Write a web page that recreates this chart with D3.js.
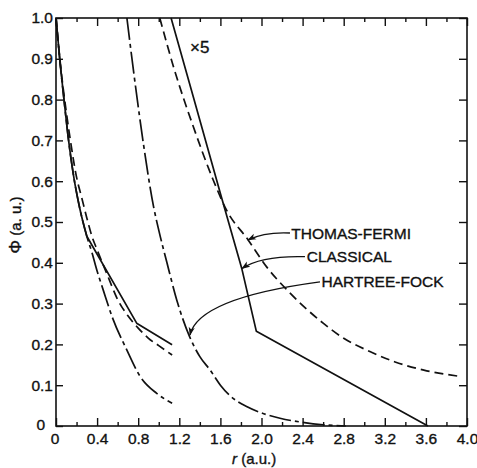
<!DOCTYPE html>
<html>
<head>
<meta charset="utf-8">
<script src="https://cdn.jsdelivr.net/npm/d3@7"></script>
<style>
  body { margin: 0; background: #fff; }
  svg { display: block; }
  text { font-family: "Liberation Sans", Arial, sans-serif; fill: #111; stroke: #111; stroke-width: 0.35px; }
</style>
</head>
<body>
<svg id="chart"></svg>
<script>
// values (r in a.u., potential in a.u.)
const tfR   = [0, 0.05, 0.1, 0.14, 0.2, 0.25, 0.3, 0.35, 0.4, 0.5, 0.6, 0.7, 0.8, 0.9, 1.0, 1.13];
const tfPhi = [1.0, 0.87, 0.77, 0.70, 0.61, 0.56, 0.51, 0.465, 0.432, 0.37, 0.31, 0.27, 0.24, 0.215, 0.197, 0.174];

// classical: curved up to r = 0.3, straight pieces after that
const clR   = [0, 0.04, 0.08, 0.12, 0.17, 0.23, 0.30, 0.785, 1.13];
const clPhi = [1.0, 0.89, 0.795, 0.705, 0.615, 0.535, 0.465, 0.252, 0.199];
const clBend = 6; // index where the straight part begins

const hfR   = [0, 0.04, 0.08, 0.12, 0.17, 0.23, 0.30, 0.35, 0.4, 0.46, 0.55, 0.69, 0.82, 0.98, 1.13];
const hfPhi = [1.0, 0.89, 0.795, 0.705, 0.615, 0.535, 0.465, 0.425, 0.38, 0.333, 0.265, 0.186, 0.121, 0.080, 0.056];

// the "x5" set
const tf5R   = [1.01, 1.15, 1.336, 1.53, 1.66, 1.87, 2.05, 2.25, 2.6, 2.8, 3.06, 3.3, 3.58, 3.95];
const tf5Phi = [1.0, 0.875, 0.734, 0.603, 0.529, 0.456, 0.39, 0.333, 0.252, 0.215, 0.182, 0.157, 0.137, 0.121];

const cl5R   = [1.12, 1.336, 1.6, 1.81, 1.95, 3.62];
const cl5Phi = [1.0, 0.807, 0.57, 0.384, 0.232, 0.0];

const hf5R   = [0.69, 0.77, 0.85, 0.95, 1.0, 1.08, 1.175, 1.30, 1.4, 1.5, 1.6, 1.69, 1.86, 2.0, 2.18, 2.4, 2.6, 2.82];
const hf5Phi = [1.0, 0.84, 0.693, 0.537, 0.48, 0.40, 0.309, 0.219, 0.17, 0.137, 0.100, 0.075, 0.047, 0.032, 0.019, 0.009, 0.003, 0.0];

const xMajor = [0, 0.4, 0.8, 1.2, 1.6, 2.0, 2.4, 2.8, 3.2, 3.6, 4.0];
const xMinor = [0.2, 0.6, 1.0, 1.4, 1.8, 2.2, 2.6, 3.0, 3.4, 3.8];
const yTicks = [0, 0.1, 0.2, 0.3, 0.4, 0.5, 0.6, 0.7, 0.8, 0.9, 1.0];

const W = 477, H = 468;
const margin = { top: 18, right: 10, bottom: 42, left: 56 };
const width = W - margin.left - margin.right;
const height = H - margin.top - margin.bottom;

const x = d3.scaleLinear().domain([0, 4]).range([0, width]);
const y = d3.scaleLinear().domain([0, 1]).range([height, 0]);

const svg = d3.select("#chart").attr("width", W).attr("height", H);
const g = svg.append("g").attr("transform", "translate(" + margin.left + "," + margin.top + ")");

const fmt = function (d) { return d === 0 ? "0" : d3.format(".1f")(d); };

// axes, ticks all pointing inward
g.append("g").attr("transform", "translate(0," + height + ")")
  .call(d3.axisBottom(x).tickValues(xMinor).tickSize(-4).tickSizeOuter(0).tickFormat(""));
const bottomMajor = g.append("g").attr("transform", "translate(0," + height + ")")
  .call(d3.axisBottom(x).tickValues(xMajor).tickSize(-8).tickSizeOuter(0).tickPadding(7).tickFormat(fmt));
g.append("g")
  .call(d3.axisTop(x).tickValues(xMinor).tickSize(-4).tickSizeOuter(0).tickFormat(""));
g.append("g")
  .call(d3.axisTop(x).tickValues(xMajor).tickSize(-8).tickSizeOuter(0).tickFormat(""));
const leftAx = g.append("g")
  .call(d3.axisLeft(y).tickValues(yTicks).tickSize(-7).tickSizeOuter(0).tickPadding(3).tickFormat(fmt));
g.append("g").attr("transform", "translate(" + width + ",0)")
  .call(d3.axisRight(y).tickValues(yTicks).tickSize(-8).tickSizeOuter(0).tickFormat(""));

g.selectAll(".domain").remove();
g.selectAll(".tick line").attr("stroke", "#111").attr("stroke-width", 1.4);
g.selectAll(".tick text").style("font-size", "15.5px").attr("fill", "#111");

// y "0" sits further left, below the x "0"
leftAx.selectAll(".tick").filter(function (d) { return d === 0; })
  .select("text").attr("x", -11).attr("dy", "0.2em");
bottomMajor.selectAll(".tick").filter(function (d) { return d === 0; })
  .select("text").attr("dx", "-0.1em");

// frame
g.append("rect")
  .attr("x", 0).attr("y", 0)
  .attr("width", width).attr("height", height)
  .attr("fill", "none").attr("stroke", "#111").attr("stroke-width", 1.6);

// curves
const toPts = function (rs, ps) { return rs.map(function (r, i) { return [r, ps[i]]; }); };

const smooth = d3.line()
  .x(function (d) { return x(d[0]); })
  .y(function (d) { return y(d[1]); })
  .curve(d3.curveMonotoneX);
const straight = d3.line()
  .x(function (d) { return x(d[0]); })
  .y(function (d) { return y(d[1]); });

const TF_DASH = "9,5";
const HF_DASH = "22,4,4,4";

function drawCurve(pts, gen, dash) {
  g.append("path")
    .datum(pts)
    .attr("fill", "none")
    .attr("stroke", "#111")
    .attr("stroke-width", 1.7)
    .attr("stroke-linejoin", "round")
    .attr("stroke-dasharray", dash)
    .attr("d", gen);
}

drawCurve(toPts(hfR, hfPhi), smooth, HF_DASH);
drawCurve(toPts(tfR, tfPhi), smooth, TF_DASH);
const clPts = toPts(clR, clPhi);
drawCurve(clPts.slice(0, clBend + 1), smooth, null);
drawCurve(clPts.slice(clBend), straight, null);

drawCurve(toPts(hf5R, hf5Phi), smooth, HF_DASH);
drawCurve(toPts(tf5R, tf5Phi), smooth, TF_DASH);
drawCurve(toPts(cl5R, cl5Phi), straight, null);

// labels and arrows
svg.append("defs").append("marker")
  .attr("id", "arrow")
  .attr("viewBox", "0 -4 10 8")
  .attr("refX", 9).attr("refY", 0)
  .attr("markerWidth", 9).attr("markerHeight", 7)
  .attr("markerUnits", "userSpaceOnUse")
  .attr("orient", "auto")
  .append("path")
  .attr("d", "M0,-3.5L10,0L0,3.5L2.5,0Z")
  .attr("fill", "#111");

const labels = [
  { text: "THOMAS-FERMI", r: 2.29, phi: 0.458, from: [2.277, 0.473], ctrl: [2.03, 0.476], to: [1.869, 0.456] },
  { text: "CLASSICAL",    r: 2.44, phi: 0.403, from: [2.423, 0.415], ctrl: [2.0, 0.418], to: [1.81, 0.386] },
  { text: "HARTREE-FOCK", r: 2.584, phi: 0.341, from: [2.569, 0.353], ctrl: [1.385, 0.313], to: [1.304, 0.223] }
];

labels.forEach(function (l) {
  g.append("text")
    .attr("x", x(l.r)).attr("y", y(l.phi))
    .style("font-size", "15.5px")
    .text(l.text);
  const p = d3.path();
  p.moveTo(x(l.from[0]), y(l.from[1]));
  p.quadraticCurveTo(x(l.ctrl[0]), y(l.ctrl[1]), x(l.to[0]), y(l.to[1]));
  g.append("path")
    .attr("d", p.toString())
    .attr("fill", "none")
    .attr("stroke", "#111")
    .attr("stroke-width", 1.3)
    .attr("marker-end", "url(#arrow)");
});

g.append("text")
  .attr("x", x(1.304)).attr("y", y(0.914))
  .style("font-size", "17px")
  .text("\u00d75");

// axis titles
svg.append("text")
  .attr("transform", "translate(21,225) rotate(-90)")
  .attr("text-anchor", "middle")
  .style("font-size", "15px")
  .html('<tspan style="font-size:17px">\u03a6</tspan>  (a. u.)');

svg.append("text")
  .attr("x", 232).attr("y", 464)
  .style("font-size", "15px")
  .html('<tspan font-style="italic">r</tspan>  (a.u.)');
</script>
</body>
</html>
